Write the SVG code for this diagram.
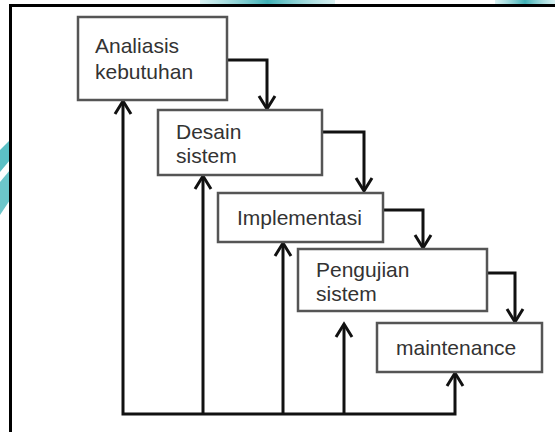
<svg xmlns="http://www.w3.org/2000/svg" width="555" height="432" viewBox="0 0 555 432">
<defs>
<style>
.box{fill:#fff;stroke:#555;stroke-width:2.5}
.lbl{font-family:"Liberation Sans",Arial,sans-serif;font-size:21px;fill:#333}
.con{fill:none;stroke:#111;stroke-width:3}
.head{fill:none;stroke:#111;stroke-width:3;stroke-linejoin:miter}
</style>
<linearGradient id="tl" x1="0" y1="0" x2="1" y2="0">
<stop offset="0" stop-color="#7fd0d4" stop-opacity="0.3"/>
<stop offset="0.5" stop-color="#3fb0b5"/>
<stop offset="1" stop-color="#7fd0d4" stop-opacity="0.3"/>
</linearGradient>
</defs>
<rect width="555" height="432" fill="#fff"/>
<!-- decorative background -->
<rect x="200" y="0" width="135" height="6" fill="url(#tl)"/>
<rect x="495" y="0" width="60" height="6" fill="url(#tl)"/>
<polygon points="0,150 10,140 10,160 0,172" fill="#5cc0c5"/>
<polygon points="0,182 10,170 10,200 0,215" fill="#6cc6ca"/>
<rect x="10.5" y="5.5" width="600" height="500" fill="none" stroke="#000" stroke-width="3"/>

<g id="connectors">
<path class="con" d="M227,60 H267 V108"/>
<path class="head" d="M259,96 L267,109 L275,96"/>
<path class="con" d="M322,132 H364 V190"/>
<path class="head" d="M356,178 L364,191 L372,178"/>
<path class="con" d="M383,210 H423 V247"/>
<path class="head" d="M415,235 L423,248 L431,235"/>
<path class="con" d="M487,273 H515 V321"/>
<path class="head" d="M507,309 L515,322 L523,309"/>
<path class="con" d="M123,102 V414 H455 V374"/>
<path class="head" d="M115,114 L123,101 L131,114"/>
<path class="con" d="M203,177 V414"/>
<path class="head" d="M195,189 L203,176 L211,189"/>
<path class="con" d="M283,244 V414"/>
<path class="head" d="M275,256 L283,243 L291,256"/>
<path class="con" d="M344,325 V414"/>
<path class="head" d="M336,337 L344,324 L352,337"/>
<path class="head" d="M447,386 L455,373 L463,386"/>
</g>

<g id="analisis">
<rect class="box" x="78" y="17" width="149" height="83"/>
<text class="lbl" x="95" y="53">Analiasis</text>
<text class="lbl" x="95" y="79">kebutuhan</text>
</g>
<g id="desain">
<rect class="box" x="158" y="110" width="164" height="65"/>
<text class="lbl" x="176" y="139">Desain</text>
<text class="lbl" x="176" y="163">sistem</text>
</g>
<g id="implementasi">
<rect class="box" x="218" y="193" width="165" height="49"/>
<text class="lbl" x="237" y="225">Implementasi</text>
</g>
<g id="pengujian">
<rect class="box" x="298" y="249" width="189" height="62"/>
<text class="lbl" x="316" y="277">Pengujian</text>
<text class="lbl" x="316" y="301">sistem</text>
</g>
<g id="maintenance">
<rect class="box" x="377" y="323" width="165" height="49"/>
<text class="lbl" x="396" y="355">maintenance</text>
</g>
</svg>
